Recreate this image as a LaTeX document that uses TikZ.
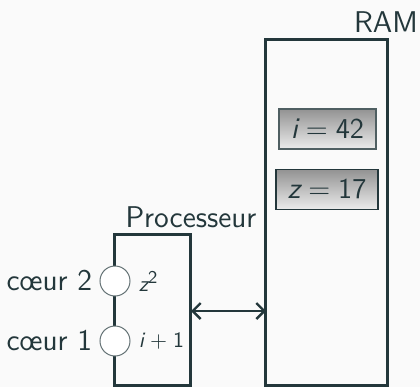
\documentclass[tikz,border=0pt]{standalone}
\usetikzlibrary{arrows.meta,positioning}
\definecolor{dk}{HTML}{23373B}
\definecolor{bg}{HTML}{FAFAFA}
\tikzset{
  box/.style={draw=dk,line width=1.5pt},
  cell/.style={draw=dk!80!white,line width=0.7pt,top color=gray!85,bottom color=gray!15,minimum width=48pt,minimum height=20pt,inner sep=0pt,text=dk,font=\sffamily\fontsize{15}{18}\selectfont},
  core/.style={circle,draw=dk!70,fill=white,line width=0.5pt,minimum size=15pt,inner sep=0pt},
  lab/.style={text=dk,font=\sffamily\fontsize{15}{18}\selectfont,inner sep=1pt},
  small/.style={text=dk,font=\sffamily\fontsize{11}{13}\selectfont,inner sep=1pt},
  link/.style={draw=dk,line width=1.2pt,{Straight Barb[length=4pt,width=8pt]}-{Straight Barb[length=4pt,width=8pt]}}
}
\begin{document}
\begin{tikzpicture}[x=0.5pt,y=-0.5pt]
\fill[bg] (0,0) rectangle (420,387);
\useasboundingbox (0,0) rectangle (420,387);
% RAM
\coordinate (ramNW) at (266,39);
\coordinate (ramSE) at (388,385);
\draw[box] (ramNW) rectangle (ramSE);
\node[lab,anchor=south] (ramlab) at (386,35) {RAM};
\node[cell,minimum width=48.5pt] (ci) at (327.5,129) {$\textsf{\itshape i} = \mathsf{42}$};
\node[cell,minimum width=51pt,draw=dk] (cz) at (327,189.5) {$\textsf{\itshape z} = \mathsf{17}$};
% Processor
\coordinate (prNW) at (115,234);
\coordinate (prSE) at (191,385);
\draw[box] (prNW) rectangle (prSE);
\node[lab,anchor=south] (prlab) at (191,230) {Processeur};
\node[core] (c2) at (115,281) {};
\node[core] (c1) at (115,341) {};
\node[lab,anchor=east] (l2) at ([xshift=-2.5pt]c2.west) {cœur 2};
\node[lab,anchor=east] (l1) at ([xshift=-2.5pt]c1.west) {cœur 1};
\node[small,anchor=west] (e2) at ([xshift=3pt]c2.east) {$\textsf{\itshape z}^{\textsf{\fontsize{9}{10}\selectfont 2}}$};
\node[small,anchor=west] (e1) at ([xshift=3pt]c1.east) {$\textsf{\itshape i}\mskip5mu\mathord{+}\mskip5mu\mathsf{1}$};
% link
\coordinate (a) at (191,311);
\coordinate (b) at (266,311);
\draw[link] (a) -- (b);
\end{tikzpicture}
\end{document}
